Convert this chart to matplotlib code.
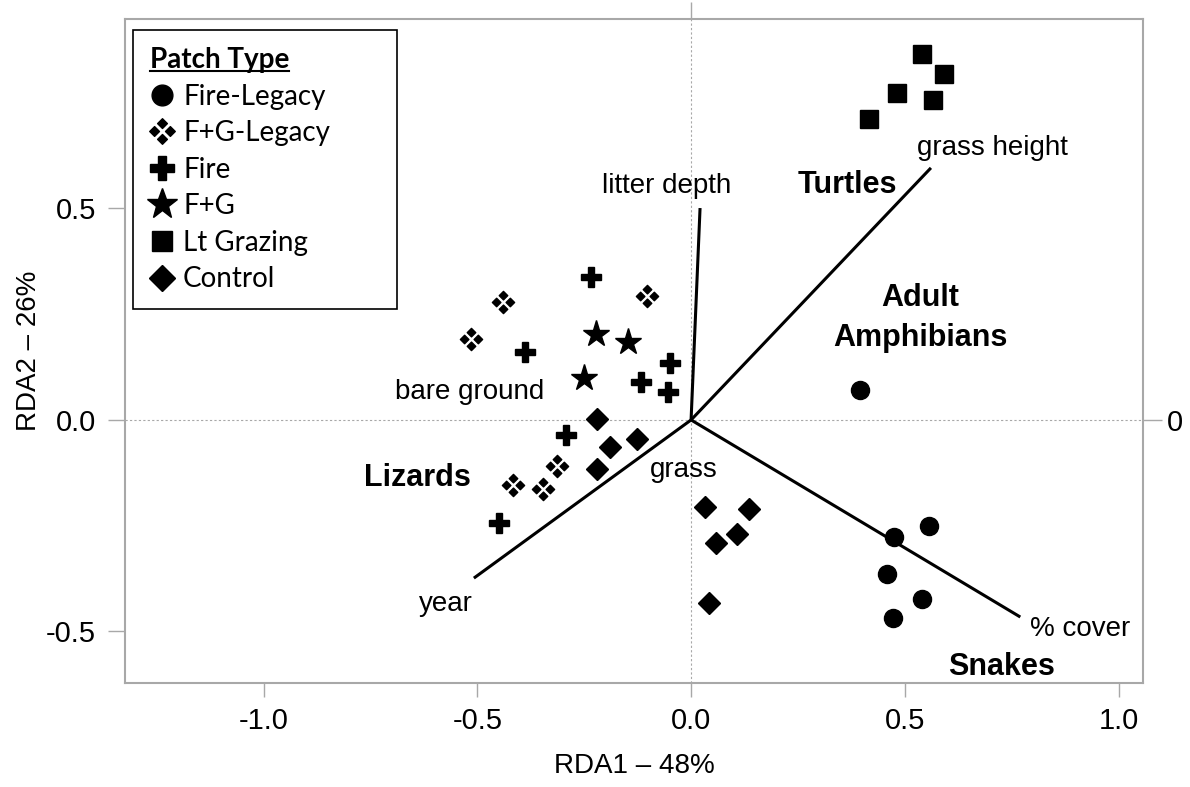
import numpy as np
import matplotlib
matplotlib.use('Agg')
import matplotlib.pyplot as plt
from matplotlib.path import Path
from matplotlib.lines import Line2D

plt.rc('font', family=['Liberation Sans', 'DejaVu Sans'], size=20)

# site scores (RDA1, RDA2) per patch type
fire_legacy_x = [0.395, 0.557, 0.475, 0.458, 0.540, 0.473]
fire_legacy_y = [0.071, -0.251, -0.277, -0.364, -0.423, -0.468]
fg_legacy_x = [-0.440, -0.515, -0.103, -0.416, -0.346, -0.313]
fg_legacy_y = [0.279, 0.191, 0.293, -0.154, -0.163, -0.109]
fire_x = [-0.234, -0.388, -0.049, -0.117, -0.054, -0.292, -0.449]
fire_y = [0.338, 0.161, 0.135, 0.090, 0.066, -0.035, -0.243]
fg_x = [-0.222, -0.147, -0.250]
fg_y = [0.203, 0.184, 0.099]
grazing_x = [0.540, 0.592, 0.482, 0.566, 0.416]
grazing_y = [0.865, 0.818, 0.773, 0.757, 0.712]
control_x = [-0.220, -0.189, -0.126, -0.220, 0.033, 0.136, 0.058, 0.108, 0.042]
control_y = [0.002, -0.064, -0.045, -0.116, -0.205, -0.210, -0.291, -0.270, -0.433]

# environmental vectors
env_names = ['litter depth', 'grass height', '% cover', 'year']
env_x = [0.021, 0.561, 0.770, -0.508]
env_y = [0.501, 0.596, -0.466, -0.374]
env_label_x = [-0.058, 0.706, 0.910, -0.573]
env_label_y = [0.553, 0.643, -0.494, -0.435]

# labels without visible vectors
extra_names = ['bare ground', 'grass']
extra_x = [-0.517, -0.016]
extra_y = [0.066, -0.118]

# taxa groups
taxa_names = ['Turtles', 'Adult\nAmphibians', 'Lizards', 'Snakes']
taxa_x = [0.365, 0.536, -0.639, 0.727]
taxa_y = [0.556, 0.241, -0.137, -0.584]


def clover():
    verts, codes = [], []
    h = 0.62
    for cx, cy in [(0, 1), (1, 0), (0, -1), (-1, 0)]:
        verts += [(cx + h, cy), (cx, cy + h), (cx - h, cy), (cx, cy - h), (cx + h, cy)]
        codes += [Path.MOVETO, Path.LINETO, Path.LINETO, Path.LINETO, Path.CLOSEPOLY]
    return Path(verts, codes)


fig = plt.figure(figsize=(11.9, 7.87), dpi=100)
W, H = 1190, 787
ax = fig.add_axes([125 / W, 1 - 683 / H, 1018 / W, 664 / H])
ax.set_xlim(-1.324, 1.057)
ax.set_ylim(-0.622, 0.948)

gray = '#a8a8a8'
ax.axhline(0, color=gray, ls=(0, (2, 2)), lw=0.8, zorder=0)
ax.axvline(0, color=gray, ls=(0, (2, 2)), lw=0.8, zorder=0)

for ex, ey in zip(env_x, env_y):
    ax.plot([0, ex], [0, ey], color='k', lw=2.2, solid_capstyle='butt', zorder=2)
for name, lx, ly in zip(env_names, env_label_x, env_label_y):
    ax.text(lx, ly, name, ha='center', va='center', fontsize=20)
for name, lx, ly in zip(extra_names, extra_x, extra_y):
    ax.text(lx, ly, name, ha='center', va='center', fontsize=20)
for name, lx, ly in zip(taxa_names, taxa_x, taxa_y):
    ax.text(lx, ly, name, ha='center', va='center', fontsize=22,
            fontweight='bold', linespacing=1.4)

h1, = ax.plot(fire_legacy_x, fire_legacy_y, 'o', color='k', ms=13, ls='none', label='Fire-Legacy')
h2, = ax.plot(fg_legacy_x, fg_legacy_y, marker=clover(), color='k', ms=16, ls='none', label='F+G-Legacy')
h3, = ax.plot(fire_x, fire_y, 'P', color='k', ms=15, ls='none', label='Fire')
h4, = ax.plot(fg_x, fg_y, '*', color='k', ms=20, ls='none', label='F+G')
h5, = ax.plot(grazing_x, grazing_y, 's', color='k', ms=13, ls='none', label='Lt Grazing')
h6, = ax.plot(control_x, control_y, 'D', color='k', ms=11.5, ls='none', label='Control')

for sp in ax.spines.values():
    sp.set_color(gray)
    sp.set_linewidth(1.5)

ax.set_xticks([-1.0, -0.5, 0.0, 0.5, 1.0])
ax.set_xticklabels(['-1.0', '-0.5', '0.0', '0.5', '1.0'])
ax.set_yticks([-0.5, 0.0, 0.5])
ax.set_yticklabels(['-0.5', '0.0', '0.5'])
ax.tick_params(axis='x', length=10, width=1, color=gray, pad=7, labelsize=21)
ax.tick_params(axis='y', length=12, width=1, color=gray, pad=9, labelsize=21)

top = ax.secondary_xaxis('top')
top.set_xticks([0.0])
top.set_xticklabels([])
top.tick_params(length=12, width=1, color=gray)
right = ax.secondary_yaxis('right')
right.set_yticks([0.0])
right.set_yticklabels(['0'])
right.tick_params(length=14, width=1, color=gray, pad=3, labelsize=21)
for s in (top, right):
    for sp in s.spines.values():
        sp.set_visible(False)

ax.set_xlabel('RDA1 \u2013 48%', fontsize=20, labelpad=13)
ax.set_ylabel('RDA2 \u2013 26%', fontsize=20, labelpad=3)

leg = ax.legend(handles=[h1, h2, h3, h4, h5, h6], loc='upper left',
                bbox_to_anchor=(0.0079, 0.983, 0.259, 0.0), mode='expand',
                borderaxespad=0,
                title='Patch Type', alignment='left',
                prop={'family': 'Lato', 'size': 20},
                title_fontproperties={'family': 'Lato', 'size': 20, 'weight': 'bold'},
                frameon=True, fancybox=False, edgecolor='k', framealpha=1,
                handlelength=0.9, handletextpad=0.3, labelspacing=0.38,
                borderpad=0.6, markerscale=1.15)
leg.get_frame().set_linewidth(1.2)

fig.canvas.draw()
bb = leg.get_title().get_window_extent()
fig.add_artist(Line2D([bb.x0 / W, bb.x1 / W], [(bb.y0 + 2) / H, (bb.y0 + 2) / H],
                      transform=fig.transFigure, color='k', lw=1.5))

fig.savefig('out.png', dpi=100)
